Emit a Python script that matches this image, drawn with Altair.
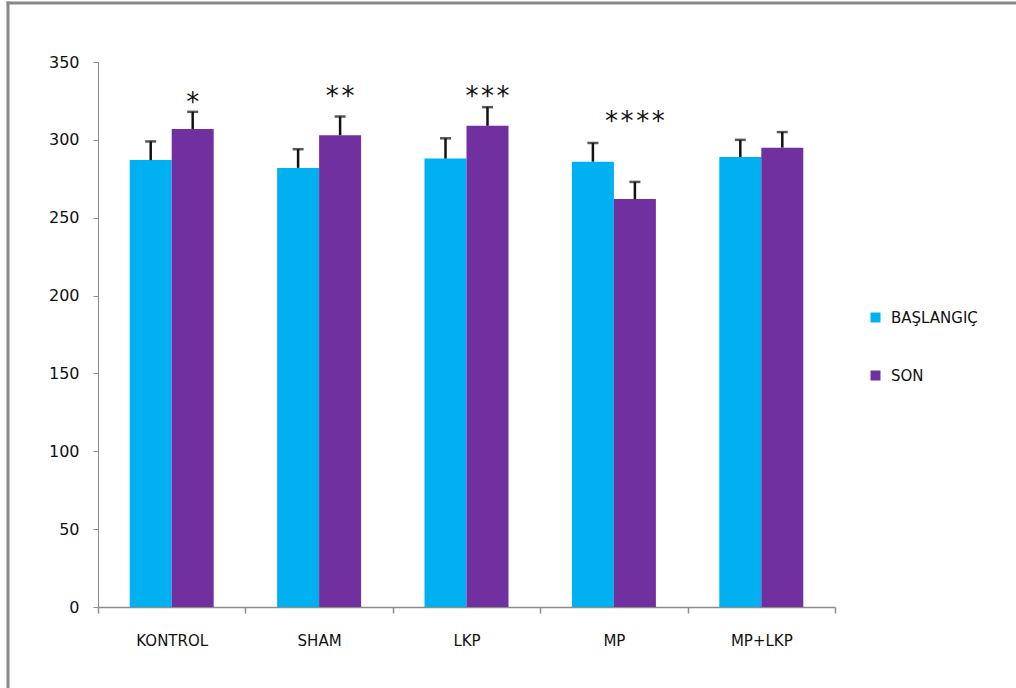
import altair as alt
import pandas as pd

groups = ["KONTROL", "SHAM", "LKP", "MP", "MP+LKP"]
series = ["BAŞLANGIÇ", "SON"]
baslangic = [287, 282, 288, 286, 289]
son = [307, 303, 309, 262, 295]
err_baslangic = [12, 12, 13, 12, 11]
err_son = [11, 12, 12, 11, 10]
HS = "\u200a"
sig_labels = ["*", HS.join("**"), HS.join("***"), HS.join("****"), ""]
sig_y = [327, 331, 331, 315, 0]
colors = ["#00B0F0", "#7030A0"]
y_ticks = [0, 50, 100, 150, 200, 250, 300, 350]

rows = []
for i, g in enumerate(groups):
    rows.append({"group": g, "series": series[0], "value": baslangic[i],
                 "top": baslangic[i] + err_baslangic[i]})
    rows.append({"group": g, "series": series[1], "value": son[i],
                 "top": son[i] + err_son[i]})
df = pd.DataFrame(rows)

sig_df = pd.DataFrame({"group": groups, "series": [series[1]] * len(groups),
                       "label": sig_labels, "y": sig_y})
sig_df = sig_df[sig_df["label"] != ""]

FONT = "DejaVu Sans"

x_enc = alt.X("group:N", sort=groups, title=None,
              scale=alt.Scale(paddingInner=0, paddingOuter=0),
              axis=alt.Axis(labelAngle=0, tickBand="extent", tickSize=6,
                            labelPadding=20, domainColor="#8c8c8c",
                            tickColor="#8c8c8c", domainWidth=1.5, tickWidth=1.5,
                            labelFont=FONT, labelFontSize=15, labelColor="#111111"))
xo_enc = alt.XOffset("series:N", sort=series,
                     scale=alt.Scale(paddingOuter=0.755, paddingInner=0))
y_scale = alt.Scale(domain=[0, 350], nice=False)

bars = alt.Chart(df).mark_bar().encode(
    x=x_enc,
    xOffset=xo_enc,
    y=alt.Y("value:Q", scale=y_scale, title=None,
            axis=alt.Axis(values=y_ticks, grid=False, tickSize=5, labelPadding=14,
                          domainColor="#8c8c8c", tickColor="#8c8c8c",
                          labelFont=FONT, labelFontSize=16, labelColor="#111111")),
    color=alt.Color("series:N", sort=series,
                    scale=alt.Scale(domain=series, range=colors),
                    legend=alt.Legend(title=None, orient="none", legendX=770,
                                      legendY=248, symbolType="square",
                                      symbolSize=100, symbolStrokeWidth=0,
                                      labelFont=FONT, labelFontSize=15,
                                      labelColor="#111111", rowPadding=42,
                                      labelOffset=8)),
)

err = alt.Chart(df).mark_rule(color="#111111", strokeWidth=2.5).encode(
    x=alt.X("group:N", sort=groups),
    xOffset=xo_enc,
    y=alt.Y("value:Q", scale=y_scale),
    y2="top:Q",
)

caps = alt.Chart(df).mark_tick(color="#111111", thickness=2.5, size=11).encode(
    x=alt.X("group:N", sort=groups),
    xOffset=xo_enc,
    y=alt.Y("top:Q", scale=y_scale),
)

sig = alt.Chart(sig_df).mark_text(font=FONT, fontSize=26, color="#111111",
                                  baseline="middle", dy=5).encode(
    x=alt.X("group:N", sort=groups),
    xOffset=xo_enc,
    y=alt.Y("y:Q", scale=y_scale),
    text="label:N",
)

one = pd.DataFrame({"k": [0]})
frame_left = alt.Chart(one).mark_rule(stroke="#888888", strokeWidth=3).encode(
    x=alt.value(-90), y=alt.value(-60.5), y2=alt.value(626))
frame_top = alt.Chart(one).mark_rule(stroke="#888888", strokeWidth=3).encode(
    x=alt.value(-91.5), x2=alt.value(918), y=alt.value(-59))

chart = alt.layer(frame_left, frame_top, bars, err, caps, sig).properties(
    width=737, height=545,
    background="white",
    autosize=alt.AutoSizeParams(type="none"),
    padding={"left": 98, "top": 62, "right": 181, "bottom": 81},
).configure_view(stroke=None)

chart.save("out.html", embed_options={"renderer": "svg", "actions": False})
